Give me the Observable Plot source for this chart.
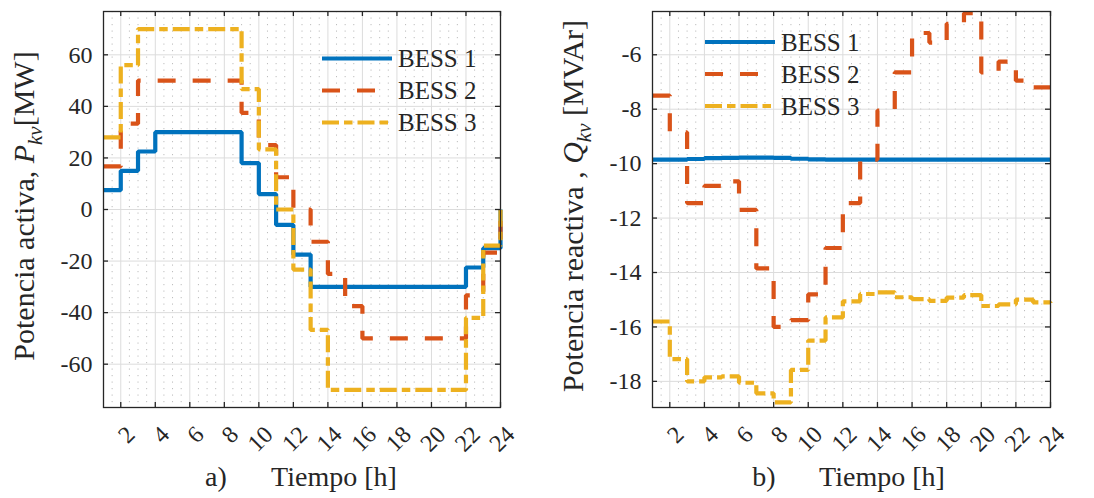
<!DOCTYPE html>
<html>
<head>
<meta charset="utf-8">
<script src="https://cdn.jsdelivr.net/npm/d3@7"></script>
<script src="https://cdn.jsdelivr.net/npm/@observablehq/plot@0.6"></script>
<style>
  body { margin: 0; background: #fff; }
  #wrap { position: relative; width: 1094px; height: 498px; overflow: hidden; background: #fff; }
  #wrap svg { position: absolute; top: 0; }
</style>
</head>
<body>
<div id="wrap"></div>
<script>
// ---------- data ----------
const hours = [1,2,3,4,5,6,7,8,9,10,11,12,13,14,15,16,17,18,19,20,21,22,23,24];
const seriesNames = ["BESS 1", "BESS 2", "BESS 3"];

// a) active power P_kv [MW] (value held from hour h to h+1)
const pBess1 = [7.5,15,22.5,30,30,30,30,30,18,6,-6,-17.5,-30,-30,-30,-30,-30,-30,-30,-30,-30,-22.5,-15,0];
const pBess2 = [16.7,33.3,50,50,50,50,50,50,37.5,25,12.5,0,-12.5,-25,-37.5,-50,-50,-50,-50,-50,-50,-33.3,-16.7,0];
const pBess3 = [28,56,70,70,70,70,70,70,46.7,23.3,0,-23.3,-46.7,-70,-70,-70,-70,-70,-70,-70,-70,-42,-14,0];

// b) reactive power Q_kv [MVAr]
const qBess1 = [-9.85,-9.85,-9.83,-9.8,-9.79,-9.78,-9.78,-9.79,-9.82,-9.84,-9.85,-9.85,-9.85,-9.85,-9.85,-9.85,-9.85,-9.85,-9.85,-9.85,-9.85,-9.85,-9.85,-9.85];
const qBess2 = [-7.5,-8.85,-11.45,-10.82,-10.65,-11.7,-13.85,-16.0,-15.75,-14.8,-13.1,-11.45,-9.85,-8.05,-6.65,-5.2,-5.55,-4.86,-4.47,-6.65,-6.25,-6.95,-7.2,-7.2];
const qBess3 = [-15.8,-17.18,-18.0,-17.85,-17.82,-18.05,-18.44,-18.77,-17.58,-16.5,-15.65,-15.06,-14.79,-14.73,-14.91,-14.98,-15.04,-14.92,-14.83,-15.23,-15.17,-15.0,-15.1,-15.12];

const xTicks = [2,4,6,8,10,12,14,16,18,20,22,24];
const pTicks = [-60,-40,-20,0,20,40,60];
const qTicks = [-18,-16,-14,-12,-10,-8,-6];
const pDomain = [-76.8, 76.8];
const qDomain = [-18.96, -4.41];

const colors = ["#0072BD", "#D95319", "#EDB120"];
const dashes = [null, "18,17", "17,5,8.5,5"];

// ---------- layout ----------
const H = 498, MT = 11, MB = 91;
const FONT = "'Liberation Serif', 'Times New Roman', Times, serif";
const INK = "#262626";
const xMinor = d3.range(1, 24.01, 0.5).filter(v => v % 2 !== 0);

function buildPanel(cfg) {
  const fw = cfg.width - cfg.ml - cfg.mr, fh = H - MT - MB;
  const lineMarks = cfg.values.map((vals, k) => {
    const rows = hours.map((h, i) => ({hour: h, value: vals[i], name: seriesNames[k]}));
    return Plot.line(rows, {
      x: "hour", y: "value", curve: "step-after",
      stroke: colors[k], strokeWidth: 4.2,
      strokeDasharray: dashes[k] || undefined,
      strokeLinecap: "butt", strokeLinejoin: "miter"
    });
  });
  const svg = Plot.plot({
    width: cfg.width, height: H,
    marginLeft: cfg.ml, marginRight: cfg.mr, marginTop: MT, marginBottom: MB,
    x: {domain: [1, 24], axis: null},
    y: {domain: cfg.yDomain, axis: null},
    style: {fontFamily: FONT, fontSize: "24px", background: "transparent", color: INK},
    marks: [
      Plot.ruleX(xMinor, {stroke: "#bdbdbd", strokeWidth: 1, strokeDasharray: "1.2,5.3"}),
      Plot.ruleX(xTicks, {stroke: "#dcdcdc", strokeWidth: 1}),
      Plot.ruleY(cfg.yTicks, {stroke: "#dcdcdc", strokeWidth: 1}),
      ...lineMarks,
      Plot.frame({stroke: INK, strokeWidth: 1.3}),
      Plot.tickX(xTicks, {x: d => d, stroke: INK, strokeWidth: 1.3, insetTop: fh - 5}),
      Plot.tickX(xTicks, {x: d => d, stroke: INK, strokeWidth: 1.3, insetBottom: fh - 5}),
      Plot.tickY(cfg.yTicks, {y: d => d, stroke: INK, strokeWidth: 1.3, insetRight: fw - 5}),
      Plot.tickY(cfg.yTicks, {y: d => d, stroke: INK, strokeWidth: 1.3, insetLeft: fw - 5}),
      Plot.text(xTicks, {x: d => d, text: d => String(d), frameAnchor: "bottom", rotate: -45,
        textAnchor: "end", lineAnchor: "middle", dx: 10, dy: 23, fontSize: 24, fill: INK}),
      Plot.text(cfg.yTicks, {y: d => d, text: d => String(d), frameAnchor: "left",
        textAnchor: "end", lineAnchor: "middle", dx: -11, fontSize: 24, fill: INK})
    ]
  });
  svg.style.left = cfg.left + "px";
  const s = d3.select(svg);

  // x label
  const xl = s.append("g").attr("font-family", FONT).attr("font-size", 28).attr("fill", INK).attr("text-anchor", "middle");
  xl.append("text").attr("x", cfg.tagX).attr("y", 486).text(cfg.tag);
  xl.append("text").attr("x", cfg.tagX + 118).attr("y", 486).text("Tiempo [h]");

  // y label
  const yl = s.append("text")
    .attr("transform", `translate(${cfg.ylX},206) rotate(-90)`)
    .attr("font-family", FONT).attr("font-size", 30).attr("fill", INK).attr("text-anchor", "middle");
  yl.append("tspan").text(cfg.yLabelPre);
  yl.append("tspan").attr("font-style", "italic").text(cfg.sym);
  yl.append("tspan").attr("font-style", "italic").attr("font-size", 21).attr("dy", 8).text("kv");
  yl.append("tspan").attr("dy", -8).text(cfg.unit);

  // legend
  const lg = s.append("g").attr("font-family", FONT).attr("font-size", 25).attr("fill", INK).attr("text-anchor", "start");
  seriesNames.forEach((n, k) => {
    const y = cfg.legY + k * 32;
    lg.append("line").attr("x1", cfg.legX).attr("x2", cfg.legX + 70).attr("y1", y).attr("y2", y)
      .attr("stroke", colors[k]).attr("stroke-width", 4.2)
      .attr("stroke-dasharray", dashes[k] || null);
    lg.append("text").attr("x", cfg.legX + 76).attr("y", y).attr("dominant-baseline", "central").text(n);
  });
  return svg;
}

const wrap = document.getElementById("wrap");
wrap.appendChild(buildPanel({
  left: 0, width: 547, ml: 103, mr: 47,
  yDomain: pDomain, yTicks: pTicks, values: [pBess1, pBess2, pBess3],
  tag: "a)", tagX: 216, ylX: 34,
  yLabelPre: "Potencia activa, ", sym: "P", unit: "[MW]",
  legX: 322, legY: 58.5
}));
wrap.appendChild(buildPanel({
  left: 547, width: 547, ml: 105, mr: 44,
  yDomain: qDomain, yTicks: qTicks, values: [qBess1, qBess2, qBess3],
  tag: "b)", tagX: 217, ylX: 36,
  yLabelPre: "Potencia reactiva , ", sym: "Q", unit: " [MVAr]",
  legX: 158, legY: 42
}));
</script>
</body>
</html>
